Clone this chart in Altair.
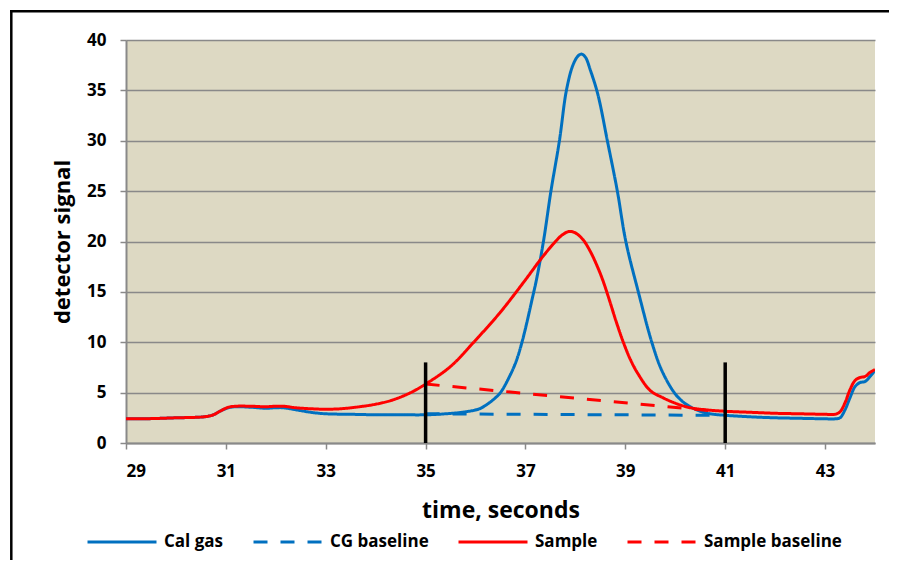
import altair as alt
import pandas as pd

# ---- data ----
cal_t = [29, 29.5, 30, 30.4, 30.6, 30.75, 30.9, 31.05, 31.2, 31.5, 31.8, 32.0, 32.15, 32.4, 32.7,
         33.0, 33.5, 34, 34.5, 35, 35.4, 35.8, 36.08, 36.25, 36.4, 36.5, 36.7, 36.82, 36.93, 37.03,
         37.13, 37.22, 37.36, 37.51, 37.68, 37.82, 37.95, 38.05, 38.12, 38.2, 38.3, 38.45, 38.64,
         38.84, 39.01, 39.26, 39.53, 39.73, 39.98, 40.15, 40.3, 40.5, 40.7, 41,
         41.5, 42, 42.5, 43, 43.2, 43.3, 43.4, 43.5, 43.6, 43.7, 43.8, 43.9, 44]
cal_v = [2.4, 2.42, 2.5, 2.55, 2.62, 2.8, 3.2, 3.5, 3.6, 3.55, 3.45, 3.5, 3.5, 3.3, 3.05,
         2.9, 2.85, 2.8, 2.8, 2.8, 2.9, 3.1, 3.4, 3.9, 4.5, 5.0, 6.8, 8.2, 10.0, 12.0,
         14.2, 16.2, 20.0, 25.0, 30.0, 35.0, 37.5, 38.4, 38.6, 38.3, 37.0, 34.6, 30.0,
         25.0, 20.0, 15.0, 10.0, 7.2, 5.0, 4.1, 3.6, 3.15, 2.9, 2.75,
         2.6, 2.5, 2.45, 2.4, 2.4, 2.5, 3.3, 4.5, 5.6, 6.0, 6.1, 6.6, 7.2]

smp_t = [29, 29.5, 30, 30.4, 30.6, 30.75, 30.9, 31.05, 31.2, 31.5, 31.8, 32.0, 32.15, 32.4, 32.7,
         33.0, 33.3, 33.68, 34.0, 34.34, 34.7, 35.0, 35.5, 36.0, 36.5, 37.0, 37.3, 37.6,
         37.75, 37.88, 38.0, 38.15, 38.3, 38.45, 38.56, 38.68, 38.82, 38.96, 39.1, 39.25,
         39.5, 39.75, 40.0, 40.3, 40.6, 41.0, 41.5, 42, 42.5, 43, 43.2, 43.3, 43.4, 43.5, 43.6,
         43.7, 43.8, 43.9, 44]
smp_v = [2.4, 2.42, 2.5, 2.55, 2.62, 2.8, 3.2, 3.55, 3.65, 3.65, 3.6, 3.65, 3.65, 3.5, 3.4,
         3.35, 3.4, 3.6, 3.85, 4.27, 5.0, 5.85, 7.6, 10.2, 13.0, 16.2, 18.2, 20.0,
         20.7, 21.0, 20.85, 20.2, 19.0, 17.4, 16.0, 14.2, 12.0, 10.0, 8.3, 6.9,
         5.2, 4.5, 3.95, 3.5, 3.3, 3.15, 3.05, 2.95, 2.9, 2.85, 2.85, 3.1, 4.0, 5.3, 6.2,
         6.5, 6.6, 7.0, 7.3]

cg_base_t = [35, 40.7]
cg_base_v = [2.9, 2.75]
smp_base_t = [35, 40.7]
smp_base_v = [5.85, 3.2]

marker_t = [35, 41]
marker_lo = [0, 0]
marker_hi = [8, 8]

series = ["Cal gas", "CG baseline", "Sample", "Sample baseline"]
colors = ["#0070C0", "#0070C0", "#FF0000", "#FF0000"]
dashes = [[1, 0], [14, 13], [1, 0], [14, 13]]

x_ticks = [29, 31, 33, 35, 37, 39, 41, 43]
y_ticks = [0, 5, 10, 15, 20, 25, 30, 35, 40]

FONT = "Open Sans"
W, H = 749, 403
PAD = {"left": 118, "top": 32, "right": 20, "bottom": 123}

# ---- tables ----
frames = []
for name, ts, vs in [("Cal gas", cal_t, cal_v), ("CG baseline", cg_base_t, cg_base_v),
                     ("Sample", smp_t, smp_v), ("Sample baseline", smp_base_t, smp_base_v)]:
    frames.append(pd.DataFrame({"t": ts, "v": vs, "series": name}))
df = pd.concat(frames, ignore_index=True)
markers = pd.DataFrame({"t": marker_t, "lo": marker_lo, "hi": marker_hi})

x_enc = alt.X("t:Q", scale=alt.Scale(domain=[29, 44], nice=False, zero=False),
              axis=alt.Axis(values=x_ticks, title="time, seconds", grid=False,
                            labelPadding=14, titleFontSize=23, titleBaseline="alphabetic",
                            titleY=74, titleAnchor="middle"))
y_enc = alt.Y("v:Q", scale=alt.Scale(domain=[0, 40], nice=False),
              axis=alt.Axis(values=y_ticks, title="detector signal", grid=True,
                            labelPadding=14, titleFontSize=22, titleBaseline="alphabetic",
                            titleX=-57, titleAngle=-90))
leg = alt.Legend(title=None, orient="none", legendX=-40, legendY=466, direction="horizontal",
                 symbolType="stroke", symbolSize=4761, symbolStrokeWidth=3,
                 labelFont=FONT, labelFontSize=17, labelFontWeight="bold", labelColor="black",
                 labelOffset=6, columnPadding=23, padding=0)
color_enc = alt.Color("series:N", scale=alt.Scale(domain=series, range=colors), legend=leg)
dash_enc = alt.StrokeDash("series:N", scale=alt.Scale(domain=series, range=dashes), legend=leg)

base = alt.Chart(df)
blue = base.transform_filter(alt.FieldOneOfPredicate(field="series", oneOf=["Cal gas", "CG baseline"])) \
    .mark_line(strokeWidth=3, interpolate="catmull-rom", clip=True) \
    .encode(x=x_enc, y=y_enc, color=color_enc, strokeDash=dash_enc)
red = base.transform_filter(alt.FieldOneOfPredicate(field="series", oneOf=["Sample", "Sample baseline"])) \
    .mark_line(strokeWidth=3, interpolate="catmull-rom", clip=True) \
    .encode(x=x_enc, y=y_enc, color=color_enc, strokeDash=dash_enc)
rules = alt.Chart(markers).mark_rule(color="black", strokeWidth=3.5).encode(
    x="t:Q", y="lo:Q", y2="hi:Q")

# outer frame of the chart: only its top and left edges are in view
frame_data = alt.Data(values=[{"a": 1}])
frame_top = alt.Chart(frame_data).mark_rule(color="black", strokeWidth=2.5, clip=False,
                                            strokeCap="butt").encode(
    x=alt.value(-116), x2=alt.value(W + PAD["right"] - 6), y=alt.value(-28.7))
frame_left = alt.Chart(frame_data).mark_rule(color="black", strokeWidth=2.5, clip=False,
                                             strokeCap="butt").encode(
    x=alt.value(-114.7), y=alt.value(-30), y2=alt.value(H + PAD["bottom"] - 6))

chart = alt.layer(frame_top, frame_left, blue, red, rules).properties(
    width=W, height=H, padding=PAD,
    autosize=alt.AutoSizeParams(type="none"),
).configure_view(fill="#DDD9C3", stroke=None).configure_axis(
    labelFont=FONT, labelFontSize=17, labelFontWeight="bold", labelColor="black",
    titleFont=FONT, titleFontWeight="bold", titleColor="black",
    domainColor="#898989", domainWidth=2, tickColor="#898989", tickWidth=1.5, tickSize=6,
    gridColor="#898989", gridWidth=1.5,
)

chart.save("out.html", embed_options={"renderer": "svg", "actions": False})
